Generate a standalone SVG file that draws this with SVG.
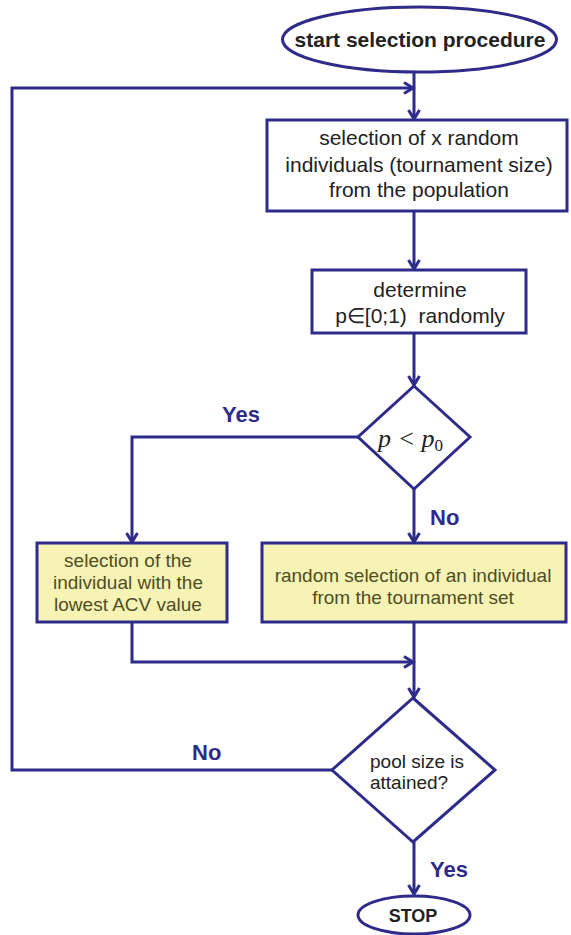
<svg xmlns="http://www.w3.org/2000/svg" width="571" height="935" viewBox="0 0 571 935">
  <style>
    .shape { fill: #ffffff; stroke: #2e2b8a; stroke-width: 3; }
    .hl { fill: #f7f3b4; stroke: #2e2b8a; stroke-width: 3; }
    .wire { fill: none; stroke: #2e2b8a; stroke-width: 3; }
    .txt { font-family: "Liberation Sans", Arial, sans-serif; fill: #222222; text-anchor: middle; }
    .hltxt { font-family: "Liberation Sans", Arial, sans-serif; fill: #4f4d26; text-anchor: middle; font-size: 19px; }
    .lbl { font-family: "Liberation Sans", Arial, sans-serif; font-weight: bold; font-size: 22px; fill: #2e2b8a; }
    .math { font-family: "Liberation Serif", "Times New Roman", serif; font-style: italic; fill: #222222; }
  </style>
  <defs>
    <marker id="arrow" markerUnits="userSpaceOnUse" markerWidth="16" markerHeight="16" refX="11" refY="7" orient="auto">
      <path d="M2,1.5 L11,7 L2,12.5" fill="none" stroke="#2e2b8a" stroke-width="3"/>
    </marker>
  </defs>

  <rect width="571" height="935" fill="#ffffff"/>

  <!-- connectors -->
  <g id="connectors">
    <path class="wire" d="M414,72 V119" marker-end="url(#arrow)"/>
    <path class="wire" d="M332,770 H12 V88 H413" marker-end="url(#arrow)"/>
    <path class="wire" d="M414,211 V269" marker-end="url(#arrow)"/>
    <path class="wire" d="M414,333 V385" marker-end="url(#arrow)"/>
    <path class="wire" d="M358,437 H132 V542" marker-end="url(#arrow)"/>
    <path class="wire" d="M414,489 V542" marker-end="url(#arrow)"/>
    <path class="wire" d="M132,622 V662 H413" marker-end="url(#arrow)"/>
    <path class="wire" d="M414,622 V697" marker-end="url(#arrow)"/>
    <path class="wire" d="M414,842 V894" marker-end="url(#arrow)"/>
    <text class="lbl" x="222" y="422">Yes</text>
    <text class="lbl" x="430" y="525">No</text>
    <text class="lbl" x="192" y="760">No</text>
    <text class="lbl" x="430" y="877">Yes</text>
  </g>

  <g id="start">
    <ellipse class="shape" cx="419.5" cy="39.5" rx="137" ry="32.5"/>
    <text class="txt" x="420" y="47" font-size="21" font-weight="bold" fill="#111111">start selection procedure</text>
  </g>

  <g id="select-tournament">
    <rect class="shape" x="267" y="120" width="300" height="91"/>
    <text class="txt" x="419" y="145" font-size="21">selection of x random</text>
    <text class="txt" x="419" y="172" font-size="21">individuals (tournament size)</text>
    <text class="txt" x="419" y="197" font-size="21">from the population</text>
  </g>

  <g id="draw-p">
    <rect class="shape" x="312" y="270" width="214" height="63"/>
    <text class="txt" x="420" y="297" font-size="21">determine</text>
    <text class="txt" x="420" y="323" font-size="21" xml:space="preserve">p∈[0;1)  randomly</text>
  </g>

  <g id="compare-p">
    <polygon class="shape" points="414,386 470,437 414,489 358,437"/>
    <text class="math" x="378" y="447" font-size="26">p &lt; p<tspan font-style="normal" font-size="17" dy="4">0</tspan></text>
  </g>

  <g id="pick-best">
    <rect class="hl" x="37" y="543" width="190" height="79"/>
    <text class="hltxt" x="128" y="567">selection of the</text>
    <text class="hltxt" x="128" y="589">individual with the</text>
    <text class="hltxt" x="128" y="611">lowest ACV value</text>
  </g>

  <g id="pick-random">
    <rect class="hl" x="262" y="543" width="304" height="79"/>
    <text class="hltxt" x="413" y="582">random selection of an individual</text>
    <text class="hltxt" x="413" y="604">from the tournament set</text>
  </g>

  <g id="pool-check">
    <polygon class="shape" points="413,698 495,770 413,842 332,770"/>
    <text class="txt" x="370" y="768" font-size="19" text-anchor="start" style="text-anchor:start">pool size is</text>
    <text class="txt" x="370" y="789" font-size="19" style="text-anchor:start">attained?</text>
  </g>

  <g id="stop">
    <ellipse class="shape" cx="414" cy="915" rx="56" ry="19"/>
    <text class="txt" x="413" y="922" font-size="18" font-weight="bold" fill="#111111">STOP</text>
  </g>
</svg>
